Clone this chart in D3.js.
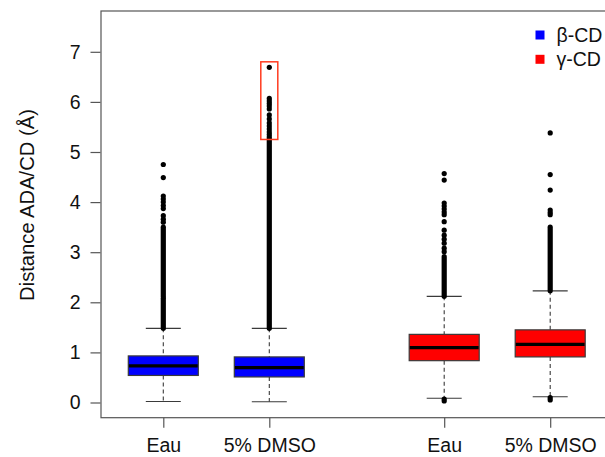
<!DOCTYPE html>
<html>
<head>
<meta charset="utf-8">
<script src="https://cdn.jsdelivr.net/npm/d3@7"></script>
<style>
  html, body { margin: 0; padding: 0; background: #fff; }
  svg { display: block; }
  text { font-family: "Liberation Sans", Arial, Helvetica, sans-serif; }
</style>
</head>
<body>
<svg id="chart" width="605" height="457"></svg>
<script>
// ---------- data ----------
const categories = ["Eau", "5% DMSO", "Eau", "5% DMSO"];
const positions = [1, 2, 3.65, 4.65];
const groups = ["β-CD", "β-CD", "γ-CD", "γ-CD"];
const groupColors = { "β-CD": "#0000ff", "γ-CD": "#ff0000" };

// box statistics
const lowerWhisker = [0.02, 0.015, 0.085, 0.115];
const q1 = [0.54, 0.51, 0.835, 0.91];
const median = [0.73, 0.695, 1.095, 1.16];
const q3 = [0.93, 0.91, 1.36, 1.45];
const upperWhisker = [1.48, 1.48, 2.12, 2.23];

// individual outliers that can be read separately
const outliers = [
  [4.75, 4.49, 4.12, 4.06, 4.00, 3.93, 3.87, 3.73, 3.66, 3.60],
  [6.69, 6.07, 6.02, 5.97, 5.92, 5.86, 5.74, 5.66, 5.58, 5.52, 5.46, 5.40, 5.35],
  [4.57, 4.44, 3.98, 3.92, 3.86, 3.80, 3.75, 3.61, 3.44, 3.34, 3.26, 3.18, 3.08, 3.01],
  [5.38, 4.55, 4.24, 3.84, 3.79, 3.75]
];
// ranges where outlier points overlap into a solid column [from, to]
const outlierRuns = [
  [[1.48, 2.08], [2.12, 3.50]],
  [[1.48, 5.30]],
  [[2.12, 2.91], [0.03, 0.07]],
  [[2.23, 3.50], [0.05, 0.10]]
];
// highlighted region (red frame) on the 2nd box
const highlight = { pos: 2, from: 5.25, to: 6.8 };

const yTicks = [0, 1, 2, 3, 4, 5, 6, 7];
const legendItems = ["β-CD", "γ-CD"];
const yTitle = "Distance ADA/CD (Å)";

// ---------- layout ----------
const svg = d3.select("#chart");
const plot = { left: 101, top: 11, bottom: 417.7 };

const x = d3.scaleLinear().domain([1, 4.65]).range([163.3, 550.2]);
const y = d3.scaleLinear().domain([0, 7]).range([402.5, 51.8]);
const boxW = 70;
const capW = 35;
const lineCol = "#3a3a3a";
const fontSize = 19.5;

// frame (right side extends past the picture)
svg.append("rect")
  .attr("x", plot.left).attr("y", plot.top)
  .attr("width", 560).attr("height", plot.bottom - plot.top)
  .attr("fill", "none").attr("stroke", "#555").attr("stroke-width", 1.2);

// y axis
const yAxis = d3.axisLeft(y).tickValues(yTicks).tickSize(10).tickPadding(10)
  .tickFormat(d3.format("d"));
const gy = svg.append("g").attr("transform", `translate(${plot.left - 0.5},0)`).call(yAxis);
gy.select(".domain").remove();
gy.selectAll(".tick line").attr("stroke", "#555").attr("stroke-width", 1.2);
gy.selectAll(".tick text").attr("font-size", fontSize).attr("fill", "#111")
  .attr("font-family", "'Liberation Sans', Arial, sans-serif");

// x axis
const xAxis = d3.axisBottom(x).tickValues(positions).tickSize(10).tickPadding(10.5)
  .tickFormat((d, i) => categories[i]);
const gx = svg.append("g").attr("transform", `translate(0,${plot.bottom})`).call(xAxis);
gx.select(".domain").remove();
gx.selectAll(".tick line").attr("stroke", "#555").attr("stroke-width", 1.2);
gx.selectAll(".tick text").attr("font-size", fontSize).attr("fill", "#111")
  .attr("font-family", "'Liberation Sans', Arial, sans-serif");

// y title
svg.append("text")
  .attr("transform", `translate(34,205) rotate(-90)`)
  .attr("text-anchor", "middle")
  .attr("font-size", 20.2).attr("fill", "#111")
  .text(yTitle);

// boxes
const boxes = positions.map((p, i) => ({ p, i }));
const g = svg.append("g");

boxes.forEach(({ p, i }) => {
  const cx = x(p);
  // dashed whiskers
  g.append("line").attr("x1", cx).attr("x2", cx)
    .attr("y1", y(upperWhisker[i])).attr("y2", y(q3[i]))
    .attr("stroke", lineCol).attr("stroke-dasharray", "4,3").attr("stroke-width", 1.1);
  g.append("line").attr("x1", cx).attr("x2", cx)
    .attr("y1", y(q1[i])).attr("y2", y(lowerWhisker[i]))
    .attr("stroke", lineCol).attr("stroke-dasharray", "4,3").attr("stroke-width", 1.1);
  // caps
  [upperWhisker[i], lowerWhisker[i]].forEach(v => {
    g.append("line").attr("x1", cx - capW / 2).attr("x2", cx + capW / 2)
      .attr("y1", y(v)).attr("y2", y(v))
      .attr("stroke", lineCol).attr("stroke-width", 1.2);
  });
  // box
  g.append("rect")
    .attr("x", cx - boxW / 2).attr("y", y(q3[i]))
    .attr("width", boxW).attr("height", y(q1[i]) - y(q3[i]))
    .attr("fill", groupColors[groups[i]])
    .attr("stroke", lineCol).attr("stroke-width", 1.2);
  // median
  g.append("line").attr("x1", cx - boxW / 2 + 0.6).attr("x2", cx + boxW / 2 - 0.6)
    .attr("y1", y(median[i])).attr("y2", y(median[i]))
    .attr("stroke", "#000").attr("stroke-width", 3.2);
  // outlier runs
  outlierRuns[i].forEach(([a, b]) => {
    g.append("line").attr("x1", cx).attr("x2", cx)
      .attr("y1", y(a)).attr("y2", y(b))
      .attr("stroke", "#000").attr("stroke-width", 5.2).attr("stroke-linecap", "round");
  });
  // single outliers
  g.selectAll(null).data(outliers[i]).enter().append("circle")
    .attr("cx", cx).attr("cy", d => y(d)).attr("r", 2.6).attr("fill", "#000");
});

// highlight frame
svg.append("rect")
  .attr("x", x(highlight.pos) - 8.5).attr("y", y(highlight.to))
  .attr("width", 17).attr("height", y(highlight.from) - y(highlight.to))
  .attr("fill", "none").attr("stroke", "#ff3b1f").attr("stroke-width", 1.5);

// legend
const lg = svg.append("g");
legendItems.forEach((name, k) => {
  const cy = 35 + k * 24.3;
  lg.append("rect").attr("x", 535.5).attr("y", cy - 4.5).attr("width", 9).attr("height", 9)
    .attr("fill", groupColors[name]);
  lg.append("text").attr("x", 556.5).attr("y", cy).attr("dy", "0.36em")
    .attr("font-size", fontSize).attr("fill", "#111").text(name);
});
</script>
</body>
</html>
